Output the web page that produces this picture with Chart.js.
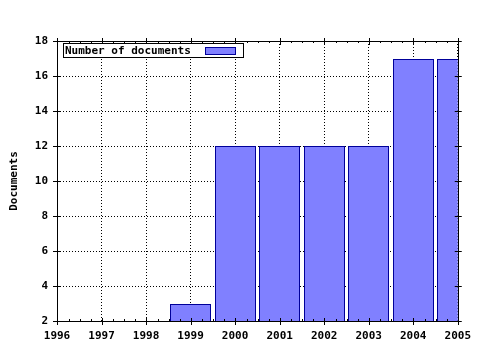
<!DOCTYPE html>
<html>
<head>
<meta charset="utf-8">
<script src="https://cdn.jsdelivr.net/npm/chart.js@4"></script>
<style>
  html, body { margin: 0; padding: 0; background: #fff; }
  #wrap { width: 480px; height: 350px; }
</style>
</head>
<body>
<div id="wrap"><canvas id="myChart"></canvas></div>
<script>
const years = ['1996', '1997', '1998', '1999', '2000', '2001', '2002', '2003', '2004', '2005'];
const documents = [null, null, null, 3, 12, 12, 12, 12, 17, 17];
const yTicks = [2, 4, 6, 8, 10, 12, 14, 16, 18];
const seriesLabel = 'Number of documents';
const axisTitle = 'Documents';

const FONT = "'DejaVu Sans Mono', monospace";

// snap bar edges to whole pixels so the 1px outline stays crisp
const snapPlugin = {
    id: 'snap',
    afterDatasetsUpdate(chart) {
        chart.getDatasetMeta(0).data.forEach(bar => {
            const w = Math.round(bar.width);
            const left = Math.round(bar.x - bar.width / 2);
            bar.width = w;
            bar.x = left + w / 2;
            bar.y = Math.round(bar.y);
            bar.base = Math.round(bar.base);
        });
    }
};

// frame, tick marks and the boxed legend in the upper left
const framePlugin = {
    id: 'frame',
    afterDraw(chart) {
        const ctx = chart.ctx;
        const a = chart.chartArea;
        const x = chart.scales.x, y = chart.scales.y;
        ctx.save();
        ctx.strokeStyle = '#000';
        ctx.lineWidth = 1;
        ctx.strokeRect(Math.round(a.left) + 0.5, Math.round(a.top) + 0.5,
            Math.round(a.right - a.left), Math.round(a.bottom - a.top));
        ctx.beginPath();
        for (let i = 0; i < years.length; i++) {
            const px = Math.round(x.getPixelForValue(i)) + 0.5;
            ctx.moveTo(px, a.bottom - 3); ctx.lineTo(px, a.bottom + 4);
            ctx.moveTo(px, a.top - 3); ctx.lineTo(px, a.top + 4);
            if (i < years.length - 1) {
                const next = x.getPixelForValue(i + 1);
                for (let k = 1; k < 4; k++) {
                    const mx = Math.round(px + (next - px) * k / 4) + 0.5;
                    ctx.moveTo(mx, a.bottom - 2); ctx.lineTo(mx, a.bottom);
                    ctx.moveTo(mx, a.top); ctx.lineTo(mx, a.top + 2);
                }
            }
        }
        yTicks.forEach(v => {
            const py = Math.round(y.getPixelForValue(v)) + 0.5;
            ctx.moveTo(a.left - 4, py); ctx.lineTo(a.left + 3, py);
            ctx.moveTo(a.right - 3, py); ctx.lineTo(a.right + 4, py);
        });
        ctx.stroke();

        // legend
        const lx = a.left + 6, ly = a.top + 2, lw = 180, lh = 14;
        ctx.fillStyle = '#fff';
        ctx.fillRect(lx, ly, lw, lh);
        ctx.strokeRect(lx + 0.5, ly + 0.5, lw, lh);
        ctx.fillStyle = '#000';
        ctx.font = 'bold 11px ' + FONT;
        ctx.textBaseline = 'middle';
        ctx.textAlign = 'left';
        ctx.fillText(seriesLabel, lx + 2, ly + lh / 2 + 1);
        const ds = chart.data.datasets[0];
        ctx.fillStyle = ds.backgroundColor;
        ctx.fillRect(lx + 142, ly + 4, 30, 7);
        ctx.strokeStyle = ds.borderColor;
        ctx.strokeRect(lx + 142.5, ly + 4.5, 30, 7);
        ctx.restore();
    }
};

const ctx = document.getElementById('myChart');
const myChart = new Chart(ctx, {
    type: 'bar',
    data: {
        labels: years,
        datasets: [{
            label: seriesLabel,
            data: documents,
            backgroundColor: '#8080ff',
            borderColor: '#000099',
            borderWidth: 1,
            borderSkipped: false,
            inflateAmount: 0,
            categoryPercentage: 1,
            barPercentage: 0.92
        }]
    },
    options: {
        responsive: true,
        maintainAspectRatio: false,
        animation: false,
        layout: { padding: { top: 41, right: 21, left: 0, bottom: 0 } },
        plugins: {
            legend: { display: false },
            tooltip: { enabled: false }
        },
        scales: {
            x: {
                offset: false,
                grid: {
                    offset: false,
                    color: '#000',
                    drawTicks: false
                },
                border: { display: false, dash: [1, 2] },
                ticks: {
                    color: '#000',
                    font: { family: FONT, size: 11, weight: 'bold' },
                    padding: 9,
                    maxRotation: 0,
                    autoSkip: false
                },
                afterFit(scale) { scale.height = 29; }
            },
            y: {
                min: 2,
                max: 18,
                grid: {
                    color: '#000',
                    drawTicks: false
                },
                border: { display: false, dash: [1, 2] },
                afterBuildTicks(scale) { scale.ticks = yTicks.map(v => ({ value: v })); },
                ticks: {
                    color: '#000',
                    font: { family: FONT, size: 11, weight: 'bold' },
                    padding: 9
                },
                title: {
                    display: true,
                    text: axisTitle,
                    color: '#000',
                    font: { family: FONT, size: 11, weight: 'bold' },
                    padding: { top: 8, bottom: 0 }
                },
                afterFit(scale) { scale.width = 57; }
            }
        }
    },
    plugins: [snapPlugin, framePlugin]
});
</script>
</body>
</html>
